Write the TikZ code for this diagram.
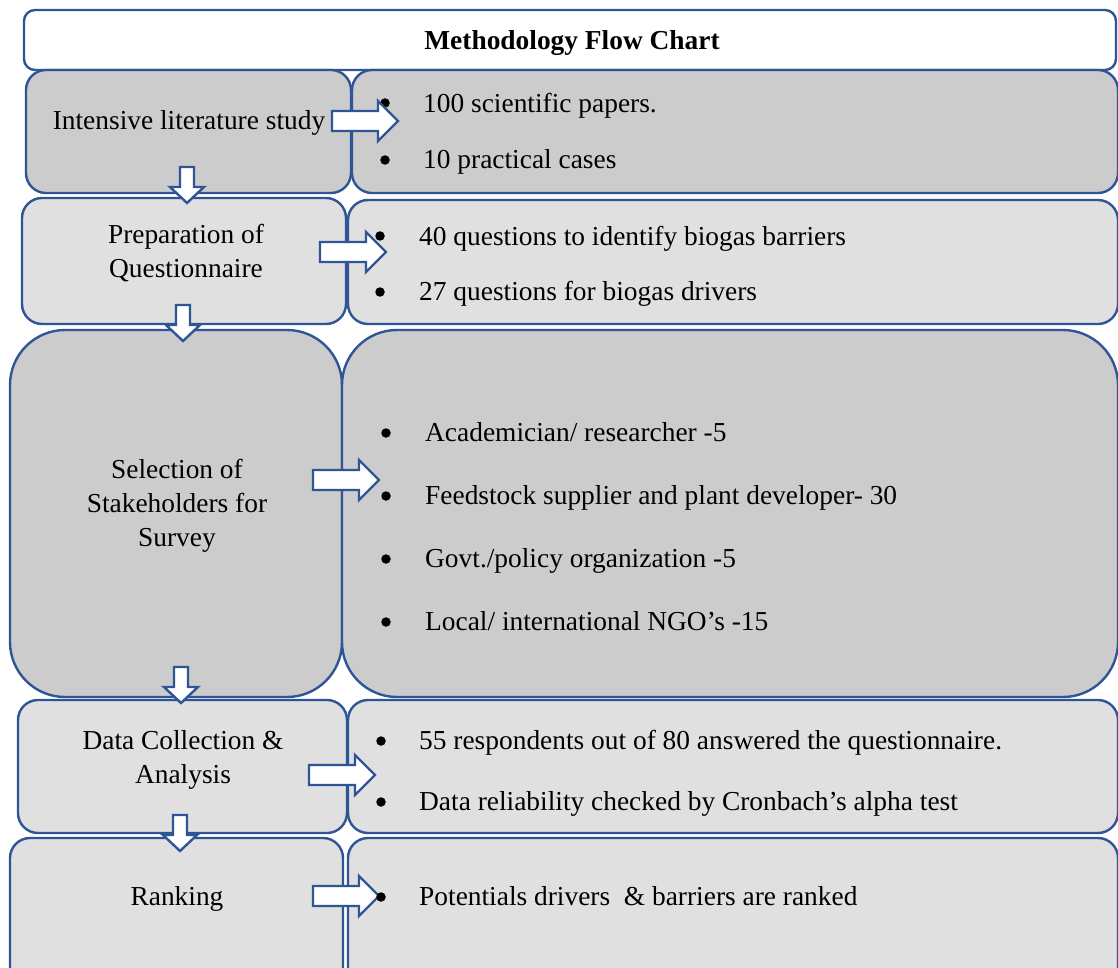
\documentclass[tikz,border=0pt]{standalone}
\usepackage{fontspec}
\setmainfont{Liberation Serif}
\definecolor{edgeblue}{RGB}{47,85,151}
\definecolor{darkfill}{RGB}{204,204,204}
\definecolor{lightfill}{RGB}{224,224,224}
\tikzset{
  box/.style={draw=edgeblue, line width=2.4pt, inner sep=0pt, outer sep=0pt},
  dbox/.style={box, fill=darkfill, rounded corners=20pt},
  lbox/.style={box, fill=lightfill, rounded corners=20pt},
  txt/.style={font=\fontsize{27.4}{34}\selectfont, inner sep=0pt, text=black},
  dot/.style={circle, fill=black, inner sep=0pt, minimum size=9.5pt},
  arrowsty/.style={draw=edgeblue, line width=2.4pt, fill=white, line join=miter},
  rarr/.pic={\draw[arrowsty] (0,-10) -- (46,-10) -- (46,-20) -- (66,0) -- (46,20) -- (46,10) -- (0,10) -- cycle;},
  darr/.pic={\draw[arrowsty] (-7,0) -- (-7,20) -- (-17,20) -- (0,36) -- (17,20) -- (7,20) -- (7,0) -- cycle;}
}
\begin{document}
\begin{tikzpicture}[x=1pt,y=-1pt]
\useasboundingbox (0,0) rectangle (1118,968);
\clip (0,0) rectangle (1118,968);
% title
\node[box, fill=white, rounded corners=11pt, minimum width=1092pt, minimum height=60pt] (title) at (570,40) {};
\node[txt, font=\fontsize{27.4}{34}\selectfont\bfseries, anchor=base] (titletxt) at (572,50) {Methodology Flow Chart};
% row 1
\node[dbox, minimum width=325pt, minimum height=123pt] (l1) at (188.5,131.5) {};
\node[dbox, minimum width=766pt, minimum height=123pt] (r1) at (735,131.5) {};
% row 2
\node[lbox, minimum width=324pt, minimum height=126pt] (l2) at (184,261) {};
\node[lbox, minimum width=770pt, minimum height=124pt] (r2) at (733,262) {};
% row 3
\node[dbox, rounded corners=55pt, minimum width=332pt, minimum height=367pt] (l3) at (176,513.5) {};
\node[dbox, rounded corners=55pt, minimum width=776pt, minimum height=367pt] (r3) at (730,513.5) {};
% row 4
\node[lbox, minimum width=329pt, minimum height=133pt] (l4) at (182.5,766.5) {};
\node[lbox, minimum width=770pt, minimum height=133pt] (r4) at (733,766.5) {};
% row 5
\node[lbox, minimum width=333pt, minimum height=150pt] (l5) at (176.5,913) {};
\node[lbox, minimum width=770pt, minimum height=150pt] (r5) at (733,913) {};
% left texts
\node[txt, anchor=base] (t1) at (189,130) {Intensive literature study};
\node[txt, align=center] (t2) at (186,253) {Preparation of\\Questionnaire};
\node[txt, align=center] (t3) at (177,506) {Selection of\\Stakeholders for\\Survey};
\node[txt, align=center] (t4) at (183,760) {Data Collection \&\\Analysis};
\node[txt, anchor=base] (t5) at (177,905) {Ranking};
% right bullets
\node[dot] (b11) at (385,103) {};
\node[txt, anchor=base west] (i11) at (423,113) {100 scientific papers.};
\node[dot] (b12) at (385,160) {};
\node[txt, anchor=base west] (i12) at (423,169) {10 practical cases};
\node[dot] (b21) at (380,236) {};
\node[txt, anchor=base west] (i21) at (419,245) {40 questions to identify biogas barriers};
\node[dot] (b22) at (380,292) {};
\node[txt, anchor=base west] (i22) at (419,300) {27 questions for biogas drivers};
\node[dot] (b31) at (386,433) {};
\node[txt, anchor=base west] (i31) at (425,441) {Academician/ researcher -5};
\node[dot] (b32) at (386,496) {};
\node[txt, anchor=base west] (i32) at (425,504) {Feedstock supplier and plant developer- 30};
\node[dot] (b33) at (386,559) {};
\node[txt, anchor=base west] (i33) at (425,567) {Govt./policy organization -5};
\node[dot] (b34) at (386,622) {};
\node[txt, anchor=base west] (i34) at (425,630) {Local/ international NGO’s -15};
\node[dot] (b41) at (381,741) {};
\node[txt, anchor=base west] (i41) at (419,749) {55 respondents out of 80 answered the questionnaire.};
\node[dot] (b42) at (381,802) {};
\node[txt, anchor=base west] (i42) at (419,810) {Data reliability checked by Cronbach’s alpha test};
\node[txt, anchor=base west] (i51) at (419,905) {Potentials drivers\ \ \& barriers are ranked};
% block arrows
\pic at (332,121) {rarr};
\pic at (320,252) {rarr};
\pic at (313,480) {rarr};
\pic at (309,775) {rarr};
\pic at (313,896) {rarr};
\pic at (187,167) {darr};
\pic at (183,305) {darr};
\pic at (181,667) {darr};
\pic at (180,815) {darr};
\node[dot] (b51) at (381,897) {};
\end{tikzpicture}
\end{document}
